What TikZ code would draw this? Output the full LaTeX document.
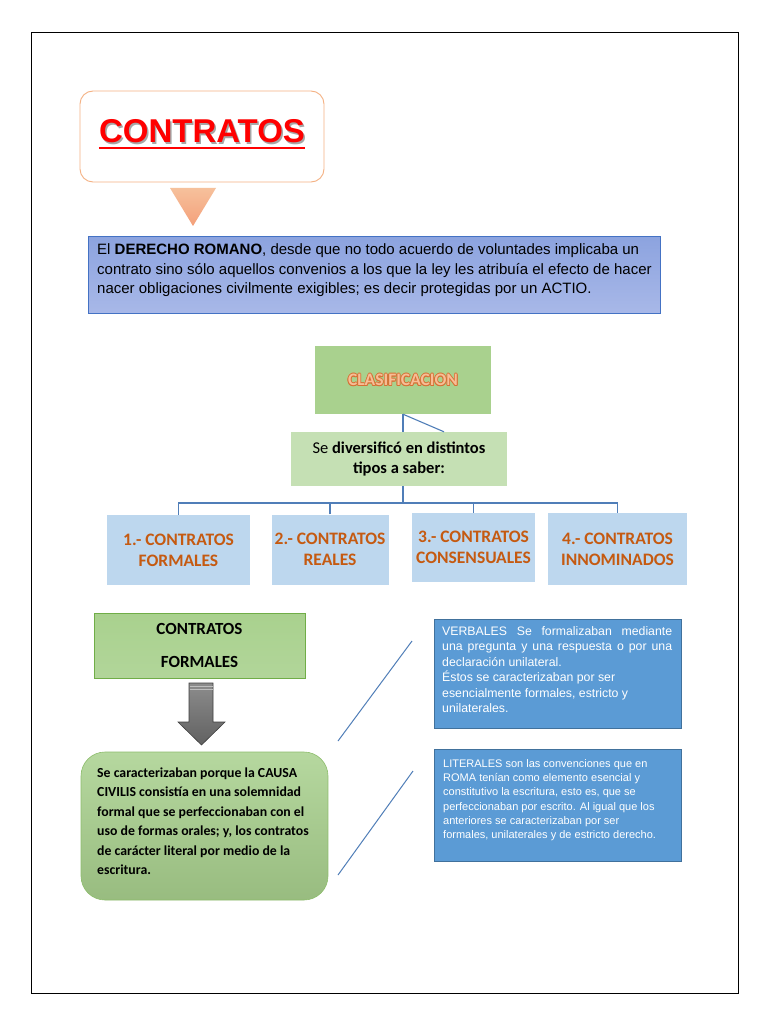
\documentclass[tikz,border=0pt]{standalone}
\usepackage{fontspec}
\setmainfont{Liberation Sans}
\newfontfamily\calibri{Carlito}
\definecolor{orbord}{RGB}{244,177,131}
\definecolor{trifill}{RGB}{244,160,122}
\definecolor{bluebord}{RGB}{68,114,196}
\definecolor{clasgreen}{RGB}{169,209,142}
\definecolor{ltgreen}{RGB}{197,224,180}
\definecolor{ltblue}{RGB}{189,215,238}
\definecolor{conncol}{RGB}{80,126,184}
\definecolor{brown}{RGB}{197,90,17}
\definecolor{grbord}{RGB}{112,173,71}
\definecolor{midblue}{RGB}{91,155,213}
\definecolor{midbord}{RGB}{65,113,156}
\definecolor{clasedge}{RGB}{214,112,52}
\definecolor{clasfill}{RGB}{247,190,150}
\tikzset{
  conn/.style={draw=conncol, line width=1.1pt},
  typebox/.style={fill=ltblue, minimum width=#1, minimum height=70pt, inner sep=0pt, align=center,
    text=brown, font=\calibri\bfseries\fontsize{17.5}{21}\selectfont},
  bluebox/.style={fill=midblue, draw=midbord, line width=0.8pt, inner sep=0pt, minimum width=247pt},
  clastxt/.style={inner sep=0pt, font=\calibri\bfseries\fontsize{17.5}{20}\selectfont},
}
\begin{document}
\begin{tikzpicture}[x=1pt,y=-1pt]
\useasboundingbox (0,0) rectangle (768,1024);
\fill[white] (0,0) rectangle (768,1024);
\draw[black, line width=0.8pt] (31,32) rectangle (738,993);

% title
\node[draw=orbord, line width=0.9pt, rounded corners=13pt, fill=white, minimum width=244pt, minimum height=91pt] (title) at (202,136.5) {};
\node[text=black!35, inner sep=0pt, anchor=base, font=\bfseries\fontsize{33}{33}\selectfont] at (203.5,144.5) {CONTRATOS};
\node[text=red, inner sep=0pt, anchor=base, font=\bfseries\fontsize{33}{33}\selectfont] (tt) at (202,143) {CONTRATOS};
\draw[red, line width=2.6pt] ([yshift=-5pt]tt.base west) -- ([yshift=-5pt]tt.base east);

% triangle
\shade[top color=orbord!80, bottom color=trifill] (170,188) -- (216,188) -- (193,226) -- cycle;

% intro box
\node[draw=bluebord, line width=0.9pt, top color={rgb,255:red,140;green,163;blue,223}, bottom color={rgb,255:red,168;green,184;blue,232}, minimum width=572pt, minimum height=77pt, inner sep=0pt] (intro) at (374,274.5) {};
\node[anchor=north west, inner sep=0pt, align=left, font=\fontsize{15}{19.5}\selectfont] at (97,243.5)
{El \textbf{DERECHO ROMANO}, desde que no todo acuerdo de voluntades implicaba un\\
contrato sino sólo aquellos convenios a los que la ley les atribuía el efecto de hacer\\
nacer obligaciones civilmente exigibles; es decir protegidas por un ACTIO.};

% clasificacion
\node[fill=clasgreen, minimum width=176pt, minimum height=68pt, inner sep=0pt] (clas) at (403,380) {};
\foreach \dx/\dy in {0.8/0,-0.8/0,0/0.8,0/-0.8,0.6/0.6,-0.6/0.6,0.6/-0.6,-0.6/-0.6}
  \node[clastxt, text=clasedge] at ([xshift=\dx pt, yshift=\dy pt]clas.center) {CLASIFICACION};
\node[clastxt, text=clasfill] (clastext) at (clas.center) {CLASIFICACION};

\node[fill=ltgreen, minimum width=216pt, minimum height=54pt, inner sep=0pt, align=center,
  font=\calibri\fontsize{16.5}{20}\selectfont] (div) at (399,459) {Se \textbf{diversificó en distintos}\\ \textbf{tipos a saber:}};
\draw[conn] (clas.south) -- (clas.south |- div.north);
\draw[conn] (clas.south) -- ([xshift=45pt]div.north);

% type boxes
\node[typebox=143pt] (b1) at (178.5,550) {1.- CONTRATOS\\FORMALES};
\node[typebox=117pt] (b2) at (330,549.5) {2.- CONTRATOS\\REALES};
\node[typebox=123pt, minimum height=69pt] (b3) at (473.5,547.5) {3.- CONTRATOS\\CONSENSUALES};
\node[typebox=139pt, minimum height=72pt] (b4) at (617.5,549) {4.- CONTRATOS\\INNOMINADOS};
\coordinate (bus) at (403,503);
\draw[conn] (div.south -| bus) -- (bus);
\draw[conn] (b1.north) -- (b1.north |- bus) -- (b4.north |- bus) -- (b4.north);
\draw[conn] (b2.north) -- (b2.north |- bus);
\draw[conn] (b3.north) -- (b3.north |- bus);

% contratos formales
\node[draw=grbord, line width=0.6pt, top color=clasgreen, bottom color=clasgreen!70!ltgreen, minimum width=211pt, minimum height=65pt, inner sep=0pt, align=center,
  font=\calibri\bfseries\fontsize{17}{33}\selectfont] (cf) at (199.5,645.5) {CONTRATOS\\FORMALES};

% gray arrow
\shade[top color=black!45, bottom color=black!62, draw=black!75, line width=0.6pt]
  (189,683) -- (213,683) -- (213,722) -- (225,722) -- (201.5,745) -- (178,722) -- (189,722) -- cycle;
\draw[black!25, line width=0.6pt] (189.5,686) -- (212.5,686) (189.5,689) -- (212.5,689);

% green rounded box
\node[draw=grbord!80, line width=0.6pt, rounded corners=24pt, top color=clasgreen!85!white, bottom color=clasgreen!90!black, minimum width=247pt, minimum height=148pt, inner sep=0pt] (gbox) at (204.5,826) {};
\node[anchor=north west, inner sep=0pt, align=left, font=\calibri\bfseries\fontsize{13.8}{19.5}\selectfont] at (97,767.5)
{Se caracterizaban porque la CAUSA\\
CIVILIS consistía en una solemnidad\\
formal que se perfeccionaban con el\\
uso de formas orales; y, los contratos\\
de carácter literal por medio de la\\
escritura.};

% diagonal lines
\coordinate (d1a) at (338,741);
\coordinate (d1b) at (412,641);
\coordinate (d2a) at (338,875);
\coordinate (d2b) at (413,771);
\draw[conn, line width=1pt] (d1a) -- (d1b);
\draw[conn, line width=1pt] (d2a) -- (d2b);

% verbales
\node[bluebox, minimum height=109pt] (verb) at (557.5,673.5) {};
\node[anchor=north west, inner sep=0pt, align=left, text=white, font=\fontsize{12.3}{15.5}\selectfont] at (442,626)
{\makebox[230pt][s]{VERBALES Se formalizaban mediante}\\
\makebox[230pt][s]{una pregunta y una respuesta o por una}\\
declaración unilateral.\\
Éstos se caracterizaban por ser\\
esencialmente formales, estricto y\\
unilaterales.};

% literales
\node[bluebox, minimum height=112pt] (lit) at (557.5,805) {};
\node[anchor=north west, inner sep=0pt, align=left, text=white, font=\fontsize{11}{14.3}\selectfont] at (443,759)
{LITERALES son las convenciones que en\\
ROMA tenían como elemento esencial y\\
constitutivo la escritura, esto es, que se\\
perfeccionaban por escrito. Al igual que los\\
anteriores se caracterizaban por ser\\
formales, unilaterales y de estricto derecho.};
\end{tikzpicture}
\end{document}
